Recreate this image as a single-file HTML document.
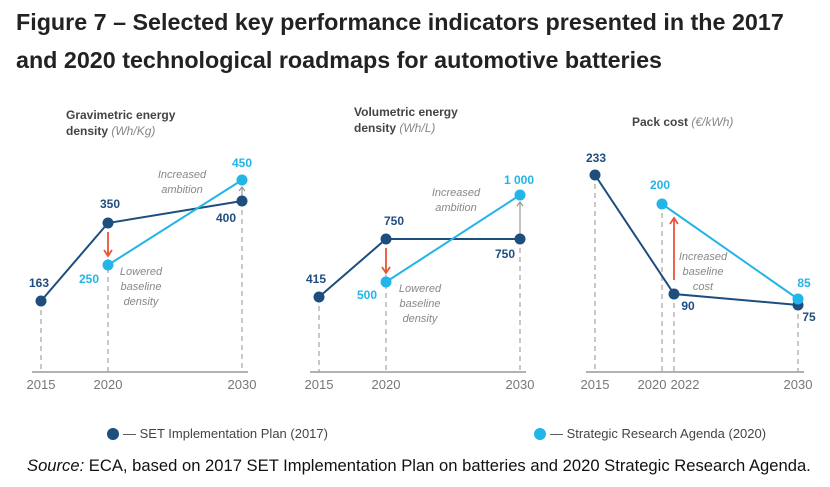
<!DOCTYPE html><html><head><meta charset="utf-8"><style>
body{margin:0;width:830px;height:487px;background:#fff;overflow:hidden;font-family:"Liberation Sans",sans-serif}
.t{position:absolute;left:16px;top:3px;font-weight:bold;font-size:23.3px;line-height:38px;color:#222;white-space:nowrap}
.s{position:absolute;left:27px;top:456px;font-size:16.6px;color:#111;white-space:nowrap}
</style></head><body>
<div class="t">Figure 7 – Selected key performance indicators presented in the 2017<br>and 2020 technological roadmaps for automotive batteries</div>
<svg width="830" height="487" style="position:absolute;left:0;top:0" font-family="Liberation Sans,sans-serif">
<g stroke="#aaa" stroke-width="1.3" stroke-dasharray="5,4" fill="none">
<path d="M41,301V372M108,223V372M242,201V372M319,297V372M386,239V372M520,239V372M595,175V372M662,204V372M674,294V372M798,305V372"/></g>
<g stroke="#999" stroke-width="1.5"><path d="M32,372H248M310,372H526M586,372H804"/></g>
<g fill="#777" font-size="13" text-anchor="middle">
<text x="41" y="389">2015</text><text x="108" y="389">2020</text><text x="242" y="389">2030</text>
<text x="319" y="389">2015</text><text x="386" y="389">2020</text><text x="520" y="389">2030</text>
<text x="595" y="389">2015</text><text x="652" y="389">2020</text><text x="685" y="389">2022</text><text x="798" y="389">2030</text></g>
<g font-size="12" font-weight="bold" fill="#444">
<text x="66" y="119">Gravimetric energy</text><text x="66" y="135">density <tspan font-weight="normal" font-style="italic" fill="#888">(Wh/Kg)</tspan></text>
<text x="354" y="116">Volumetric energy</text><text x="354" y="132">density <tspan font-weight="normal" font-style="italic" fill="#888">(Wh/L)</tspan></text>
<text x="632" y="126">Pack cost <tspan font-weight="normal" font-style="italic" fill="#888">(€/kWh)</tspan></text></g>
<g fill="none" stroke-width="2">
<path d="M41,301L108,223L242,201M319,297L386,239L520,239M595,175L674,294L798,305" stroke="#1d4e7e"/>
<path d="M108,265L242,180M386,282L520,195M662,204L798,299" stroke="#22b5e8"/></g>
<g stroke="#e8553a" stroke-width="1.8" fill="none">
<path d="M108,232V255M104,250L108,256L112,250"/>
<path d="M386,248V272M382,267L386,273L390,267"/>
<path d="M674,280V218M670,224L674,218L678,224"/></g>
<g stroke="#999" stroke-width="1.2" fill="none"><path d="M242,199V188M239,191L242,187L245,191"/><path d="M520,235V203M517,206L520,202L523,206"/></g>
<g fill="#1d4e7e"><circle cx="41" cy="301" r="5.5"/><circle cx="108" cy="223" r="5.5"/><circle cx="242" cy="201" r="5.5"/><circle cx="319" cy="297" r="5.5"/><circle cx="386" cy="239" r="5.5"/><circle cx="520" cy="239" r="5.5"/><circle cx="595" cy="175" r="5.5"/><circle cx="674" cy="294" r="5.5"/><circle cx="798" cy="305" r="5.5"/><circle cx="113" cy="434" r="6"/></g>
<g fill="#22b5e8"><circle cx="108" cy="265" r="5.5"/><circle cx="242" cy="180" r="5.5"/><circle cx="386" cy="282" r="5.5"/><circle cx="520" cy="195" r="5.5"/><circle cx="662" cy="204" r="5.5"/><circle cx="798" cy="299" r="5.5"/><circle cx="540" cy="434" r="6"/></g>
<g font-size="12" font-weight="bold" fill="#1d4e7e" text-anchor="middle">
<text x="39" y="287">163</text><text x="110" y="208">350</text><text x="226" y="222">400</text><text x="316" y="283">415</text><text x="394" y="225">750</text><text x="505" y="258">750</text><text x="596" y="162">233</text><text x="688" y="310">90</text><text x="809" y="321">75</text></g>
<g font-size="12" font-weight="bold" fill="#22b5e8" text-anchor="middle">
<text x="89" y="283">250</text><text x="242" y="167">450</text><text x="367" y="299">500</text><text x="519" y="184">1 000</text><text x="660" y="189">200</text><text x="804" y="287">85</text></g>
<g font-size="11" font-style="italic" fill="#888" text-anchor="middle">
<text x="182" y="178">Increased</text><text x="182" y="193">ambition</text>
<text x="141" y="275">Lowered</text><text x="141" y="290">baseline</text><text x="141" y="305">density</text>
<text x="456" y="196">Increased</text><text x="456" y="211">ambition</text>
<text x="420" y="292">Lowered</text><text x="420" y="307">baseline</text><text x="420" y="322">density</text>
<text x="703" y="260">Increased</text><text x="703" y="275">baseline</text><text x="703" y="290">cost</text></g>
<g font-size="13" fill="#444"><text x="123" y="438">— SET Implementation Plan (2017)</text><text x="550" y="438">— Strategic Research Agenda (2020)</text></g>
</svg>
<div class="s"><i>Source:</i> ECA, based on 2017 SET Implementation Plan on batteries and 2020 Strategic Research Agenda.</div>
</body></html>
